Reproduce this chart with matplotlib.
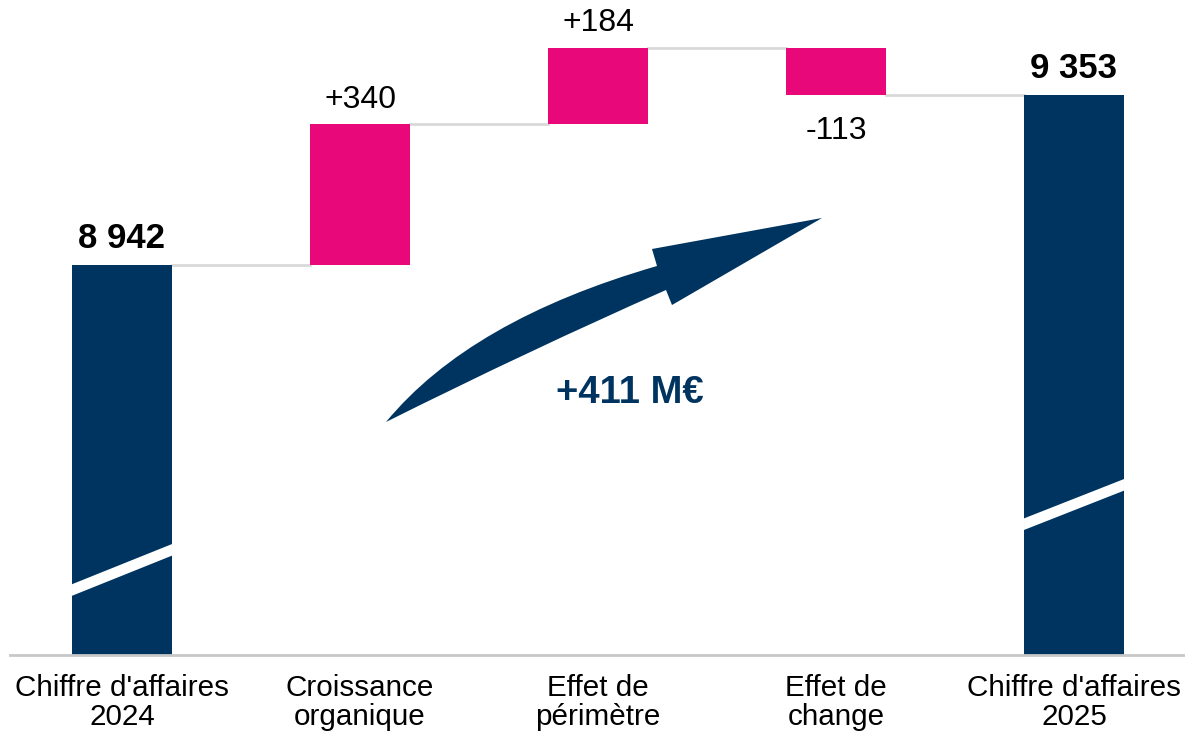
import matplotlib.pyplot as plt
from matplotlib.patches import PathPatch, Polygon
from matplotlib.path import Path

plt.rcParams["font.family"] = ["Liberation Sans", "DejaVu Sans"]

NAVY = "#003460"
PINK = "#E9087A"
GRID = "#d9d9d9"

categories = ["Chiffre d'affaires\n2024", "Croissance\norganique", "Effet de\npérimètre",
              "Effet de\nchange", "Chiffre d'affaires\n2025"]
start_value = 8942
deltas = [340, 184, -113]
end_value = 9353
total_change = "+411 M€"

# axis is cut: bars start at 8 000
FLOOR = 8000
# white break stripes on the totals (left / right centre, in data units)
BREAKS = [(8157, 8254), (8316, 8411)]
BREAK_HALF = 14

fig = plt.figure(figsize=(11.85, 7.37), dpi=100)
ax = fig.add_axes([0, 1 - 655 / 737, 1, 655 / 737])
ax.set_xlim(-122 / 238, (1185 - 122) / 238)
ax.set_ylim(FLOOR, FLOOR + 655 / 0.414)
ax.axis("off")

width = 0.42
bottoms, heights, colors = [FLOOR], [start_value - FLOOR], [NAVY]
level = start_value
for d in deltas:
    bottoms.append(min(level, level + d))
    heights.append(abs(d))
    colors.append(PINK)
    level += d
bottoms.append(FLOOR)
heights.append(end_value - FLOOR)
colors.append(NAVY)
xs = list(range(len(categories)))

# connector lines between bar tops
tops = [start_value]
level = start_value
for d in deltas:
    level += d
    tops.append(level)
for i, y in enumerate(tops):
    ax.plot([i + width / 2, i + 1 - width / 2], [y, y], color=GRID, lw=2, zorder=1)

ax.bar(xs, heights, bottom=bottoms, width=width, color=colors, zorder=2)

# broken-axis stripes
for i, (yl, yr) in zip([0, len(xs) - 1], BREAKS):
    x0, x1 = i - width / 2, i + width / 2
    ax.add_patch(Polygon([(x0, yl - BREAK_HALF), (x1, yr - BREAK_HALF),
                          (x1, yr + BREAK_HALF), (x0, yl + BREAK_HALF)],
                         closed=True, color="white", lw=0, zorder=3))

# value labels
ax.annotate(f"{start_value:,}".replace(",", " "), (0, start_value), xytext=(0, 12),
            textcoords="offset points", ha="center", va="baseline",
            fontsize=25, fontweight="bold")
ax.annotate(f"{end_value:,}".replace(",", " "), (xs[-1], end_value), xytext=(0, 12),
            textcoords="offset points", ha="center", va="baseline",
            fontsize=25, fontweight="bold")
level = start_value
for i, d in enumerate(deltas, start=1):
    if d >= 0:
        ax.annotate(f"+{d}", (i, level + d), xytext=(0, 12), textcoords="offset points",
                    ha="center", va="baseline", fontsize=23)
    else:
        ax.annotate(f"{d}", (i, level + d), xytext=(0, -15), textcoords="offset points",
                    ha="center", va="top", fontsize=23)
    level += d

# baseline
ax.axhline(FLOOR, xmin=10 / 1185, xmax=1, color="#c8c8c8", lw=2, clip_on=False, zorder=4)

# category labels
for i, lab in enumerate(categories):
    ax.text(i, FLOOR - 19 / 0.414, lab, ha="center", va="top", fontsize=21.3,
            linespacing=1.05)


# curved growth arrow, drawn in figure pixels
def px(x, y):
    return (x / 1185, 1 - y / 737)


verts = [px(386, 422), px(470, 320), px(657, 266), px(652, 249), px(822, 218),
         px(672, 305), px(666, 290), px(530, 350), px(386, 422), px(386, 422)]
codes = [Path.MOVETO, Path.CURVE3, Path.CURVE3, Path.LINETO, Path.LINETO,
         Path.LINETO, Path.LINETO, Path.CURVE3, Path.CURVE3, Path.CLOSEPOLY]
fig.patches.append(PathPatch(Path(verts, codes), facecolor=NAVY, edgecolor="none",
                             transform=fig.transFigure))
fig.text(*px(630, 393), total_change, ha="center", va="center", fontsize=27.5,
         fontweight="bold", color=NAVY)

fig.savefig("out.png", dpi=100, facecolor="white")
